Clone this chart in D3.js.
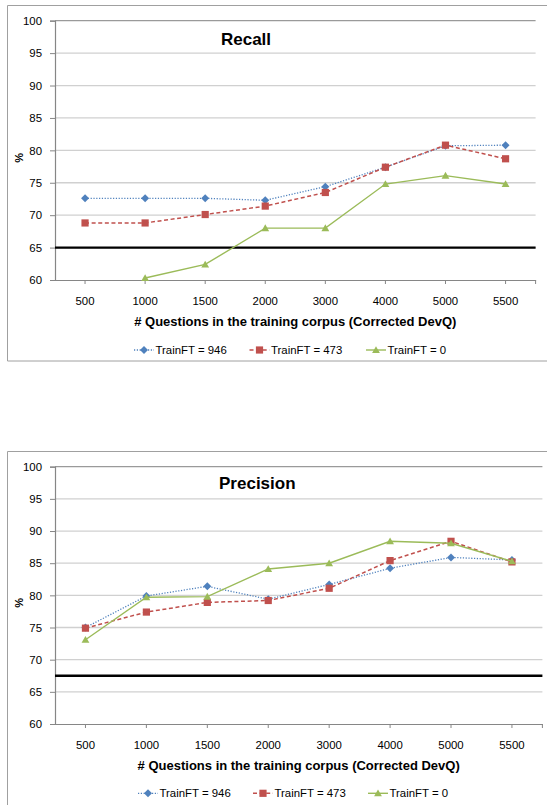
<!DOCTYPE html>
<html>
<head>
<meta charset="utf-8">
<script src="https://cdn.jsdelivr.net/npm/d3@7"></script>
<style>
  html, body { margin: 0; padding: 0; background: #fff; }
  svg { display: block; }
  text { font-family: "Liberation Sans", Arial, sans-serif; fill: #000; }
</style>
</head>
<body>
<svg id="chart" width="547" height="805"></svg>
<script>
// ---------- data ----------
const categories = ["500", "1000", "1500", "2000", "3000", "4000", "5000", "5500"];
const yTicks = [60, 65, 70, 75, 80, 85, 90, 95, 100];
const seriesNames = ["TrainFT = 946", "TrainFT = 473", "TrainFT = 0"];

const recall946 = [72.6, 72.6, 72.6, 72.3, 74.4, 77.4, 80.7, 80.8];
const recall473 = [68.8, 68.8, 70.1, 71.4, 73.5, 77.4, 80.8, 78.7];
const recall0   = [null, 60.3, 62.4, 68.0, 68.0, 74.8, 76.1, 74.8];
const recallThreshold = 65;

const precision946 = [75.0, 79.9, 81.4, 79.4, 81.7, 84.2, 85.9, 85.5];
const precision473 = [74.9, 77.4, 78.9, 79.2, 81.1, 85.4, 88.4, 85.2];
const precision0   = [73.1, 79.7, 79.8, 84.1, 85.0, 88.4, 88.1, 85.3];
const precisionThreshold = 67.5;

const xTitle = "# Questions in the training corpus (Corrected DevQ)";
const yTitle = "%";

// ---------- styles ----------
const styles = [
  { color: "#4F81BD", dash: "1.2,1.6", width: 1.3, marker: "diamond" },
  { color: "#C0504D", dash: "4,2.6",   width: 1.5, marker: "square" },
  { color: "#9BBB59", dash: null,      width: 1.4, marker: "triangle" }
];

function markerPath(type) {
  if (type === "diamond") return "M0,-4L4,0L0,4L-4,0Z";
  if (type === "square") return "M-3.6,-3.6H3.6V3.6H-3.6Z";
  return "M0,-3.8L3.9,3L-3.9,3Z";
}

const svg = d3.select("#chart");

function drawChart(cfg) {
  const g = svg.append("g");

  // outer frame
  g.append("path")
    .attr("d", `M${cfg.frameX + 560},${cfg.frameY}H${cfg.frameX}V${cfg.frameY + cfg.frameH}H${cfg.frameX + 560}`)
    .attr("fill", "none").attr("stroke", "#a0a0a0").attr("stroke-width", 1);

  const x = d3.scaleBand().domain(categories).range([cfg.x0, cfg.x1]).padding(0);
  const y = d3.scaleLinear().domain([60, 100]).range([cfg.yBot, cfg.yTop]);
  const cx = d => x(d) + x.bandwidth() / 2;

  // gridlines
  g.append("g").selectAll("line").data(yTicks.filter(t => t > 60)).join("line")
    .attr("x1", cfg.x0).attr("x2", cfg.x1)
    .attr("y1", d => y(d)).attr("y2", d => y(d))
    .attr("stroke", d => d === 100 ? "#9a9a9a" : "#d0d0d0")
    .attr("stroke-width", 1.3);

  // y axis
  const yAxis = g.append("g").attr("transform", `translate(${cfg.x0},0)`)
    .call(d3.axisLeft(y).tickValues(yTicks).tickSize(5).tickPadding(8));
  yAxis.select(".domain").attr("stroke", "#868686").attr("stroke-width", 1.2);
  yAxis.selectAll(".tick line").attr("stroke", "#868686");
  yAxis.selectAll(".tick text").style("font-size", "11.4px")
    .style("font-family", "'Liberation Sans', Arial, sans-serif").attr("fill", "#000");

  // x axis
  const xAxis = g.append("g").attr("transform", `translate(0,${cfg.yBot})`)
    .call(d3.axisBottom(x).tickSize(4).tickPadding(13).tickSizeOuter(0));
  xAxis.select(".domain").attr("stroke", "#868686").attr("stroke-width", 1.2);
  xAxis.selectAll(".tick line").attr("stroke", "#868686");
  xAxis.selectAll(".tick text").style("font-size", "11.4px")
    .style("font-family", "'Liberation Sans', Arial, sans-serif").attr("fill", "#000");
  g.append("line").attr("x1", cfg.x1).attr("x2", cfg.x1)
    .attr("y1", cfg.yBot).attr("y2", cfg.yBot + 4).attr("stroke", "#868686");

  // threshold line
  g.append("line").attr("x1", cfg.x0).attr("x2", cfg.x1)
    .attr("y1", y(cfg.threshold)).attr("y2", y(cfg.threshold))
    .attr("stroke", "#000").attr("stroke-width", 2.3);

  // series
  cfg.series.forEach((vals, i) => {
    const st = styles[i];
    const pts = categories.map((c, k) => ({ c, v: vals[k] })).filter(p => p.v != null);
    const line = d3.line().x(p => cx(p.c)).y(p => y(p.v));
    g.append("path").datum(pts).attr("d", line)
      .attr("fill", "none").attr("stroke", st.color).attr("stroke-width", st.width)
      .attr("stroke-dasharray", st.dash);
    g.append("g").selectAll("path").data(pts).join("path")
      .attr("transform", p => `translate(${cx(p.c)},${y(p.v)})`)
      .attr("d", markerPath(st.marker)).attr("fill", st.color);
  });

  // title
  g.append("text").attr("x", cfg.titleX).attr("y", cfg.titleY)
    .attr("text-anchor", "middle").style("font-size", "17px").style("font-weight", "bold")
    .text(cfg.title);

  // axis titles
  g.append("text").attr("x", (cfg.x0 + cfg.x1) / 2).attr("y", cfg.xTitleY)
    .attr("text-anchor", "middle").style("font-size", "13px").style("font-weight", "bold")
    .text(xTitle);
  g.append("text")
    .attr("transform", `translate(${cfg.yTitleX},${(cfg.yTop + cfg.yBot) / 2 + 7.5}) rotate(-90)`)
    .attr("text-anchor", "middle").style("font-size", "11px").style("font-weight", "bold")
    .text(yTitle);

  // legend
  cfg.legendX.forEach((lx, i) => {
    const st = styles[i];
    const lg = g.append("g").attr("transform", `translate(${lx},${cfg.legendY})`);
    lg.append("line").attr("x1", 0).attr("x2", 20).attr("y1", 0).attr("y2", 0)
      .attr("stroke", st.color).attr("stroke-width", st.width).attr("stroke-dasharray", st.dash);
    lg.append("path").attr("transform", "translate(10,0)").attr("d", markerPath(st.marker))
      .attr("fill", st.color);
    lg.append("text").attr("x", 21.5).attr("y", 4).style("font-size", "11.4px").text(seriesNames[i]);
  });
}

drawChart({
  title: "Recall", titleX: 246, titleY: 45,
  frameX: 7.5, frameY: 5.5, frameH: 355.5,
  x0: 55, x1: 535.6, yTop: 20.7, yBot: 280,
  threshold: recallThreshold,
  series: [recall946, recall473, recall0],
  xTitleY: 325.7, yTitleX: 22.7,
  legendX: [134, 249.5, 366], legendY: 350
});

drawChart({
  title: "Precision", titleX: 257.3, titleY: 489,
  frameX: 7.5, frameY: 451.5, frameH: 400,
  x0: 55, x1: 542.4, yTop: 466.7, yBot: 724,
  threshold: precisionThreshold,
  series: [precision946, precision473, precision0],
  xTitleY: 769.8, yTitleX: 22.7,
  legendX: [138, 253, 368], legendY: 793.3
});
</script>
</body>
</html>
